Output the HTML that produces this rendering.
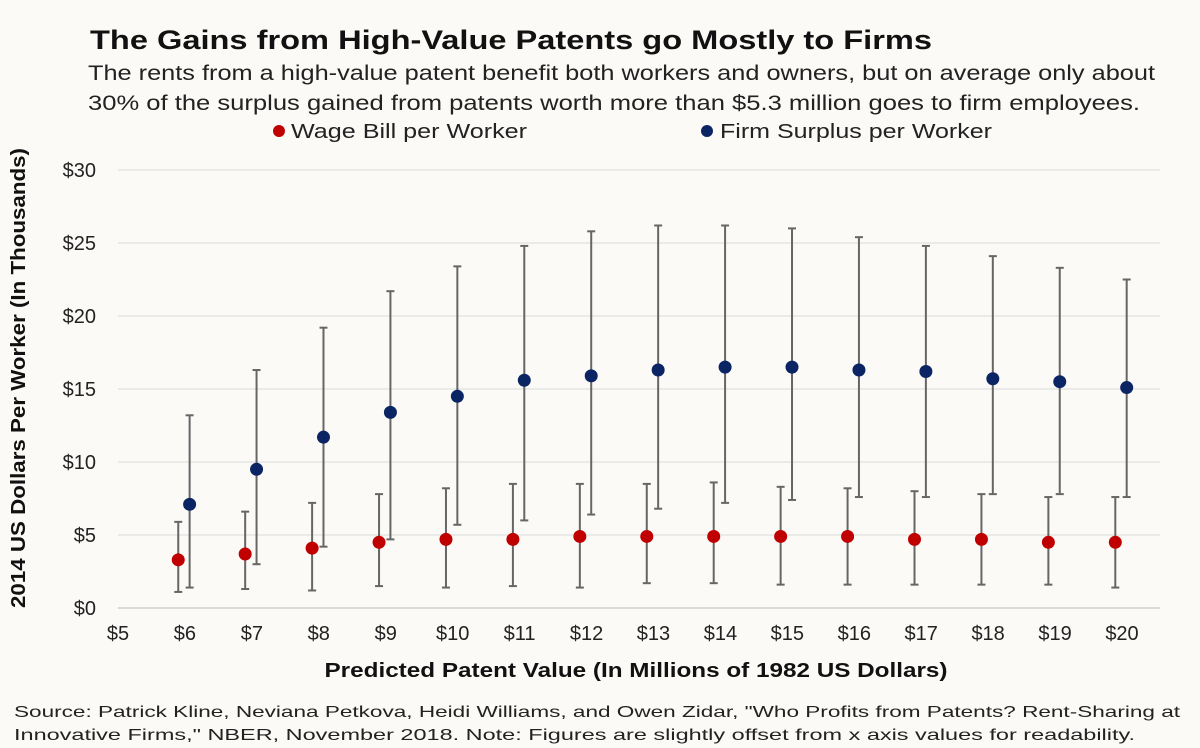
<!DOCTYPE html>
<html><head><meta charset="utf-8"><style>
body{margin:0;background:#fcfaf7;}
svg{display:block;font-family:"Liberation Sans",sans-serif;}
</style></head><body>
<svg id="chart" width="1200" height="748" viewBox="0 0 1200 748">
<rect width="1200" height="748" fill="#fcfaf7"/>
<text x="90" y="49" font-size="27" font-weight="bold" fill="#111" textLength="842" lengthAdjust="spacingAndGlyphs">The Gains from High-Value Patents go Mostly to Firms</text>
<text x="88" y="80" font-size="21" fill="#222" textLength="1067" lengthAdjust="spacingAndGlyphs">The rents from a high-value patent benefit both workers and owners, but on average only about</text>
<text x="88" y="110" font-size="21" fill="#222" textLength="1052" lengthAdjust="spacingAndGlyphs">30% of the surplus gained from patents worth more than $5.3 million goes to firm employees.</text>
<g>
<circle cx="279" cy="131" r="6" fill="#c00000"/>
<text x="291" y="138" font-size="20" fill="#222" textLength="236" lengthAdjust="spacingAndGlyphs">Wage Bill per Worker</text>
<circle cx="707" cy="131" r="6" fill="#0b2463"/>
<text x="720" y="138" font-size="20" fill="#222" textLength="272" lengthAdjust="spacingAndGlyphs">Firm Surplus per Worker</text>
</g>
<g id="grid"></g><g id="marks"></g>
<text transform="translate(25,378) rotate(-90)" text-anchor="middle" font-size="20" font-weight="bold" fill="#111" textLength="460" lengthAdjust="spacingAndGlyphs">2014 US Dollars Per Worker (In Thousands)</text>
<text x="636" y="677" text-anchor="middle" font-size="20" font-weight="bold" fill="#111" textLength="623" lengthAdjust="spacingAndGlyphs">Predicted Patent Value (In Millions of 1982 US Dollars)</text>
<text x="14" y="717" font-size="16" fill="#222" textLength="1166" lengthAdjust="spacingAndGlyphs">Source: Patrick Kline, Neviana Petkova, Heidi Williams, and Owen Zidar, "Who Profits from Patents? Rent-Sharing at</text>
<text x="14" y="740" font-size="16" fill="#222" textLength="1121" lengthAdjust="spacingAndGlyphs">Innovative Firms," NBER, November 2018. Note: Figures are slightly offset from x axis values for readability.</text>
</svg>
<script>
const xCats=[6,7,8,9,10,11,12,13,14,15,16,17,18,19,20];
const wage=[3.3,3.7,4.1,4.5,4.7,4.7,4.9,4.9,4.9,4.9,4.9,4.7,4.7,4.5,4.5];
const wageLow=[1.1,1.3,1.2,1.5,1.4,1.5,1.4,1.7,1.7,1.6,1.6,1.6,1.6,1.6,1.4];
const wageHigh=[5.9,6.6,7.2,7.8,8.2,8.5,8.5,8.5,8.6,8.3,8.2,8.0,7.8,7.6,7.6];
const surplus=[7.1,9.5,11.7,13.4,14.5,15.6,15.9,16.3,16.5,16.5,16.3,16.2,15.7,15.5,15.1];
const surplusLow=[1.4,3.0,4.2,4.7,5.7,6.0,6.4,6.8,7.2,7.4,7.6,7.6,7.8,7.8,7.6];
const surplusHigh=[13.2,16.3,19.2,21.7,23.4,24.8,25.8,26.2,26.2,26.0,25.4,24.8,24.1,23.3,22.5];
const yTicks=[0,5,10,15,20,25,30];
const xTicks=[5,6,7,8,9,10,11,12,13,14,15,16,17,18,19,20];
const NS='http://www.w3.org/2000/svg';
const xs=v=>118+(v-5)*(1004/15);
const ys=v=>608-v*14.6;
function mk(tag,attrs,parent,txt){const e=document.createElementNS(NS,tag);for(const k in attrs)e.setAttribute(k,attrs[k]);if(txt!==undefined)e.textContent=txt;parent.appendChild(e);return e;}
const grid=document.getElementById('grid'),marks=document.getElementById('marks');
yTicks.forEach(t=>{
 const l=mk('line',{x1:118,x2:1160,y1:ys(t),y2:ys(t),stroke:t===0?'#bbb':'#d9d9d9','stroke-width':1},grid);
 
 
 const tx=mk('text',{x:96,y:ys(t)+7,'text-anchor':'end','font-size':20,fill:'#222'},grid,'$'+t);
 
 
});
xTicks.forEach(t=>{
 const tx=mk('text',{x:xs(t),y:640,'text-anchor':'middle','font-size':20,fill:'#222'},grid,'$'+t);
 
 
});
function series(vals,lo,hi,off,color,name){
 xCats.forEach((c,i)=>{
  const x=xs(c+off);
  const g=mk('g',{},marks);
  
  
  mk('line',{x1:x,x2:x,y1:ys(lo[i]),y2:ys(hi[i]),stroke:'#666','stroke-width':2},g);
  mk('line',{x1:x-4,x2:x+4,y1:ys(lo[i]),y2:ys(lo[i]),stroke:'#666','stroke-width':2},g);
  mk('line',{x1:x-4,x2:x+4,y1:ys(hi[i]),y2:ys(hi[i]),stroke:'#666','stroke-width':2},g);
  mk('circle',{cx:x,cy:ys(vals[i]),r:6.5,fill:color},g);
 });
}
series(wage,wageLow,wageHigh,-0.1,'#c00000','wage');
series(surplus,surplusLow,surplusHigh,0.07,'#0b2463','surplus');
</script>
</body></html>
